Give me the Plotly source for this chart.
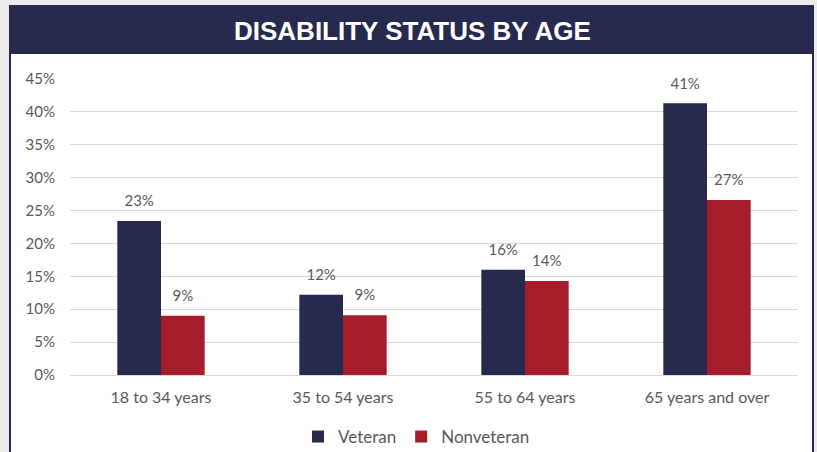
import plotly.graph_objects as go

categories = ["18 to 34 years", "35 to 54 years", "55 to 64 years", "65 years and over"]
veteran = [0.234, 0.122, 0.160, 0.413]
nonveteran = [0.090, 0.091, 0.143, 0.266]
tick_vals = [0, 0.05, 0.10, 0.15, 0.20, 0.25, 0.30, 0.35, 0.40, 0.45]
tick_text = ["0%", "5%", "10%", "15%", "20%", "25%", "30%", "35%", "40%", "45%"]

NAVY = "#272A4F"
RED = "#A51C2A"
GRAY = "#595959"
FONT = "Lato"

W, H = 817, 452
L, R, T, B = 70, 19, 79, 77
PW, PH = W - L - R, H - T - B

def px(x):
    return (x - L) / PW

def py(y):
    return (H - B - y) / PH

fig = go.Figure()
for name, vals, col in [("Veteran", veteran, NAVY), ("Nonveteran", nonveteran, RED)]:
    fig.add_trace(go.Bar(
        name=name, x=categories, y=vals, marker_color=col,
        marker_line_width=0, offsetgroup=name, alignmentgroup="a",
    ))
for name, vals in [("Veteran", veteran), ("Nonveteran", nonveteran)]:
    fig.add_trace(go.Scatter(
        x=categories, y=vals, mode="markers+text", showlegend=False,
        offsetgroup=name, alignmentgroup="a",
        marker=dict(size=16, opacity=0), hoverinfo="skip",
        texttemplate="%{y:.0%}", textposition="top center",
        textfont=dict(color=GRAY, size=15, family=FONT), cliponaxis=False,
    ))

shapes = [
    dict(type="rect", xref="paper", yref="paper", layer="below",
         x0=px(10), x1=px(813), y0=py(H + 5), y1=py(6),
         fillcolor="white", line=dict(color=NAVY, width=2)),
    dict(type="rect", xref="paper", yref="paper", layer="below",
         x0=px(10), x1=px(813), y0=py(54), y1=py(6),
         fillcolor=NAVY, line=dict(width=0)),
]

fig.update_layout(
    width=W, height=H,
    margin=dict(l=L, r=R, t=T, b=B, autoexpand=False),
    paper_bgcolor="#EEEAEA",
    plot_bgcolor="rgba(0,0,0,0)",
    barmode="group",
    scattermode="group",
    bargap=0.52,
    bargroupgap=0,
    scattergap=0.52,
    font=dict(family=FONT, color=GRAY, size=14),
    shapes=shapes,
    showlegend=True,
    legend=dict(orientation="h", x=0.5 + 8 / W, xanchor="center", xref="container",
                y=1 - 437 / H, yanchor="middle", yref="container",
                bgcolor="rgba(0,0,0,0)",
                font=dict(size=17, color=GRAY, family=FONT), itemwidth=30,
                traceorder="normal"),
    annotations=[dict(text="<b>DISABILITY STATUS BY AGE</b>", xref="paper", yref="paper",
                      x=px(412), y=py(31), xanchor="center", yanchor="middle", showarrow=False,
                      font=dict(family="Liberation Sans", size=26, color="white"))],
)
fig.update_yaxes(range=[0, 0.45], tickvals=tick_vals, ticktext=tick_text,
                 showgrid=True, gridcolor="#D9D9D9", gridwidth=1, zeroline=True,
                 zerolinecolor="#D9D9D9", zerolinewidth=1, showline=False,
                 automargin=False,
                 ticklabelstandoff=14, tickfont=dict(size=15, color=GRAY, family=FONT))
fig.update_xaxes(showline=False, ticks="", ticklabelstandoff=11, automargin=False,
                 tickfont=dict(size=16, color=GRAY, family=FONT))

fig.write_html("out.html", config={"displayModeBar": False},
               post_script="document.body.style.margin='0';")
